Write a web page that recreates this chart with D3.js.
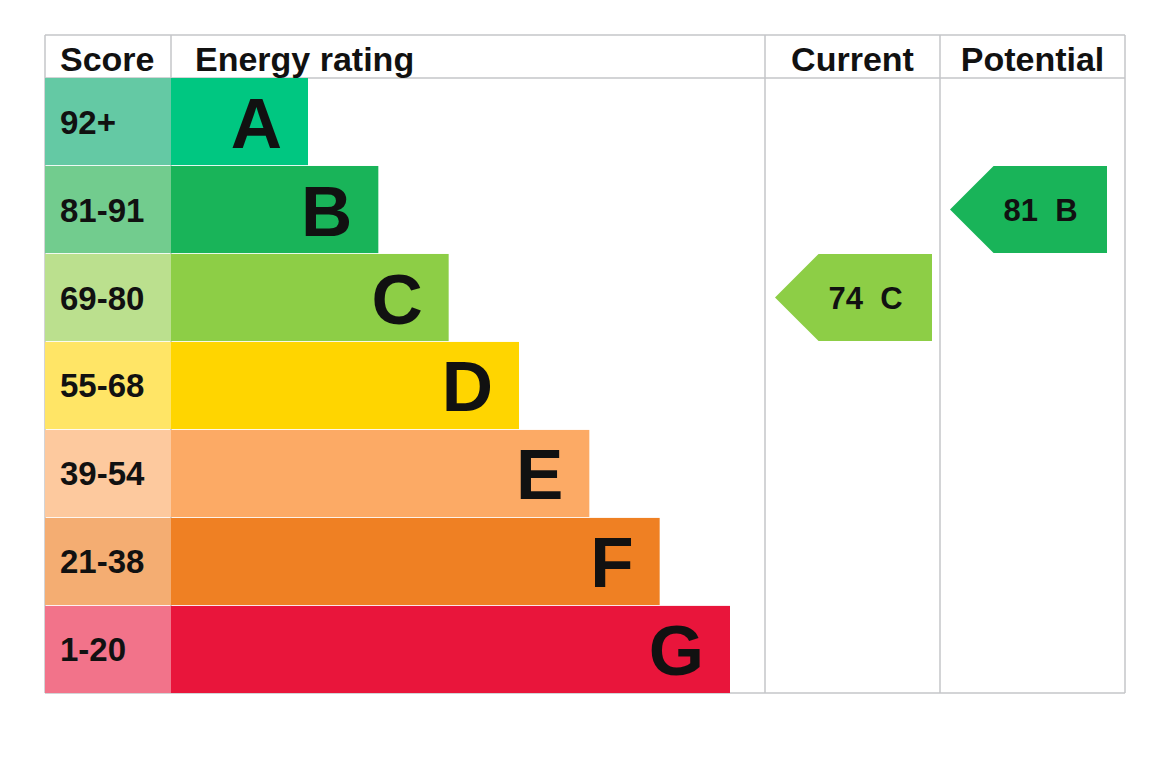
<!DOCTYPE html>
<html>
<head>
<meta charset="utf-8">
<script src="https://cdn.jsdelivr.net/npm/d3@7"></script>
<style>
  body { margin: 0; background: #fff; }
  svg text { font-family: "Liberation Sans", Arial, Helvetica, sans-serif; font-weight: bold; fill: #111; }
</style>
</head>
<body>
<svg id="chart"></svg>
<script>
// bands, best to worst
const bands = ['A', 'B', 'C', 'D', 'E', 'F', 'G'];
const scoreLabels = ['92+', '81-91', '69-80', '55-68', '39-54', '21-38', '1-20'];
const minScores = [92, 81, 69, 55, 39, 21, 1];
const bandColors = ['#00c781', '#19b459', '#8dce46', '#ffd500', '#fcaa65', '#ef8023', '#e9153b'];
const scoreColors = ['#64c9a4', '#72cc8e', '#bbe08e', '#ffe566', '#fdc99e', '#f4ad72', '#f2738a'];
const headers = ['Score', 'Energy rating', 'Current', 'Potential'];
const currentScore = 74;
const potentialScore = 81;

let graphicopt = {
    width: 1170,
    height: 763,
    left: 45, top: 35, right: 1125, bottom: 693,
    headerH: 43,
    cols: [45, 171, 765, 940, 1125]
};

const svg = d3.select('#chart')
    .attr('width', graphicopt.width)
    .attr('height', graphicopt.height);

const rowTop = graphicopt.top + graphicopt.headerH;
const y = d3.scaleBand()
    .domain(bands)
    .range([rowTop, graphicopt.bottom])
    .paddingInner(0.01);
// bar end grows one step per band
const barEnd = d3.scaleLinear()
    .domain([0, bands.length - 1])
    .range([308, 730]);

const bandOf = v => bands[minScores.findIndex(m => v >= m)];

// grid lines
const grid = svg.append('g').attr('class', 'grid')
    .attr('stroke', '#c4c6c9').attr('stroke-width', 1.5);
grid.append('line')
    .attr('x1', graphicopt.left).attr('x2', graphicopt.right)
    .attr('y1', graphicopt.top).attr('y2', graphicopt.top);
grid.append('line')
    .attr('x1', graphicopt.left).attr('x2', graphicopt.right)
    .attr('y1', graphicopt.bottom).attr('y2', graphicopt.bottom);
grid.append('line')
    .attr('x1', graphicopt.left).attr('x2', graphicopt.right)
    .attr('y1', rowTop).attr('y2', rowTop);
grid.selectAll('.col')
    .data(graphicopt.cols)
    .enter().append('line')
    .attr('class', 'col')
    .attr('x1', d => d).attr('x2', d => d)
    .attr('y1', graphicopt.top).attr('y2', graphicopt.bottom);

// header texts
const cols = graphicopt.cols;
svg.selectAll('.header')
    .data(headers)
    .enter().append('text')
    .attr('class', 'header')
    .attr('x', (d, i) => i < 2 ? cols[i] + (i === 0 ? 15 : 24) : (cols[i] + cols[i + 1]) / 2)
    .attr('y', graphicopt.top + 36)
    .attr('text-anchor', (d, i) => i < 2 ? 'start' : 'middle')
    .style('font-size', '34px')
    .text(d => d);

// rows
const row = svg.selectAll('.row')
    .data(bands)
    .enter().append('g')
    .attr('class', 'row')
    .attr('transform', d => `translate(0,${y(d)})`);

row.append('rect')
    .attr('x', cols[0])
    .attr('width', cols[1] - cols[0])
    .attr('height', y.bandwidth())
    .attr('fill', (d, i) => scoreColors[i]);

row.append('rect')
    .attr('x', cols[1])
    .attr('width', (d, i) => barEnd(i) - cols[1])
    .attr('height', y.bandwidth())
    .attr('fill', (d, i) => bandColors[i]);

row.append('text')
    .attr('x', cols[0] + 15)
    .attr('y', y.bandwidth() / 2 + 12)
    .style('font-size', '33px')
    .text((d, i) => scoreLabels[i]);

row.append('text')
    .attr('x', (d, i) => barEnd(i) - 26)
    .attr('y', y.bandwidth() / 2 + 26)
    .attr('text-anchor', 'end')
    .style('font-size', '71px')
    .text(d => d);

// arrows for current / potential
const arrows = [
    {score: currentScore, x0: 775, x1: 932},
    {score: potentialScore, x0: 950, x1: 1107}
];
const arrow = svg.selectAll('.arrow')
    .data(arrows)
    .enter().append('g')
    .attr('class', 'arrow')
    .attr('transform', d => `translate(0,${y(bandOf(d.score))})`);

arrow.append('path')
    .attr('d', d => {
        const h = y.bandwidth();
        return `M${d.x0},${h / 2} L${d.x0 + h / 2},0 L${d.x1},0 L${d.x1},${h} L${d.x0 + h / 2},${h} Z`;
    })
    .attr('fill', d => bandColors[bands.indexOf(bandOf(d.score))]);

arrow.append('text')
    .attr('x', d => (d.x0 + d.x1) / 2 + 12)
    .attr('y', y.bandwidth() / 2 + 11)
    .attr('text-anchor', 'middle')
    .style('font-size', '31px')
    .style('white-space', 'pre')
    .attr('xml:space', 'preserve')
    .text(d => `${d.score}  ${bandOf(d.score)}`);
</script>
</body>
</html>
